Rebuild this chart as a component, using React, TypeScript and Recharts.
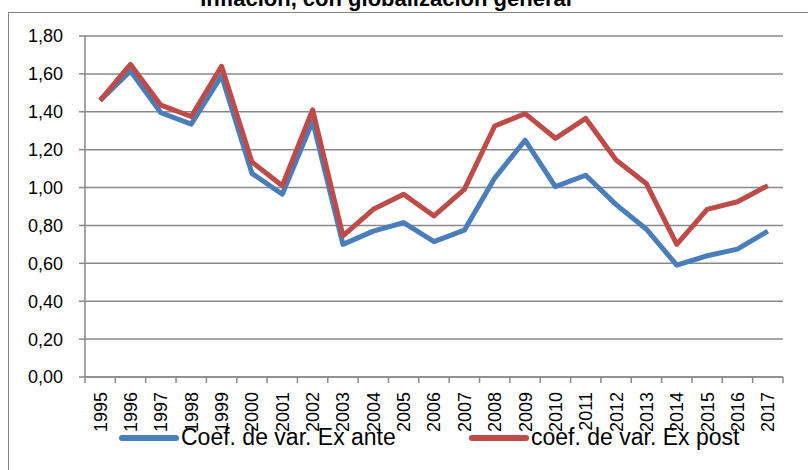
import { LineChart, Line, XAxis, YAxis, CartesianGrid, Legend } from "recharts";

const years = ["1995", "1996", "1997", "1998", "1999", "2000", "2001", "2002", "2003", "2004", "2005", "2006", "2007", "2008", "2009", "2010", "2011", "2012", "2013", "2014", "2015", "2016", "2017"];
const exAnte = [1.46, 1.615, 1.395, 1.335, 1.59, 1.075, 0.965, 1.35, 0.7, 0.77, 0.815, 0.715, 0.775, 1.05, 1.25, 1.005, 1.065, 0.91, 0.78, 0.59, 0.64, 0.675, 0.77];
const exPost = [1.46, 1.65, 1.435, 1.375, 1.64, 1.135, 1.01, 1.41, 0.745, 0.885, 0.965, 0.85, 0.99, 1.325, 1.39, 1.26, 1.365, 1.145, 1.02, 0.7, 0.885, 0.925, 1.01];
const yTicks = [0, 0.2, 0.4, 0.6, 0.8, 1.0, 1.2, 1.4, 1.6, 1.8];

const title = "Inflación, con globalización general";
const anteName = "Coef. de var. Ex ante";
const postName = "coef. de var. Ex post";

const data = years.map((y, i) => ({ year: y, ante: exAnte[i], post: exPost[i] }));

const W = 808;
const H = 470;
const LEFT = 85;
const RIGHT = 25;
const BAND = (W - LEFT - RIGHT) / years.length;
const GRID = "#898989";
const FONT = "'Liberation Sans', Arial, sans-serif";

function YearTick(props: any) {
  const { x, y, payload, index } = props;
  const last = index === years.length - 1;
  return (
    <g>
      <line x1={x - BAND / 2} y1={y} x2={x - BAND / 2} y2={y + 6} stroke={GRID} strokeWidth={1.5} />
      {last && <line x1={x + BAND / 2} y1={y} x2={x + BAND / 2} y2={y + 6} stroke={GRID} strokeWidth={1.5} />}
      <text
        x={x}
        y={y + 15}
        dy="0.36em"
        transform={`rotate(-90, ${x}, ${y + 15})`}
        textAnchor="end"
        fontSize={18}
        fontFamily={FONT}
        fill="#000"
      >
        {payload.value}
      </text>
    </g>
  );
}

function LegendBox(props: any) {
  const items = props.payload || [];
  const spots = [122, 472];
  return (
    <svg width={W} height={50} style={{ display: "block" }}>
      {items.map((it: any, i: number) => (
        <g key={it.value}>
          <line x1={spots[i]} y1={28} x2={spots[i] + 54} y2={28} stroke={it.color} strokeWidth={6} strokeLinecap="round" />
          <text x={spots[i] + 59} y={35} fontSize={23} fontFamily={FONT} fill="#000">
            {it.value}
          </text>
        </g>
      ))}
    </svg>
  );
}

export default function App() {
  return (
    <div style={{ position: "absolute", top: 0, left: 0, width: W, height: H, overflow: "hidden", background: "#fff" }}>
      <div style={{ position: "absolute", left: 8, top: 12, width: W + 20, height: H + 20, border: "1px solid #868686" }} />
      <LineChart width={W} height={H} data={data} margin={{ top: 36, right: RIGHT, left: 0, bottom: 0 }}>
        <CartesianGrid vertical={false} stroke={GRID} strokeWidth={1.5} />
        <XAxis
          dataKey="year"
          scale="band"
          height={93}
          interval={0}
          tickSize={0}
          tickMargin={0}
          tickLine={false}
          axisLine={{ stroke: GRID, strokeWidth: 1.5 }}
          tick={<YearTick />}
        />
        <YAxis
          width={LEFT}
          domain={[0, 1.8]}
          ticks={yTicks}
          tickSize={6}
          tickMargin={16}
          tickLine={{ stroke: GRID, strokeWidth: 1.5 }}
          axisLine={{ stroke: GRID, strokeWidth: 1.5 }}
          tick={{ fill: "#000", fontSize: 18, fontFamily: FONT }}
          tickFormatter={(v: number) => v.toFixed(2).replace(".", ",")}
        />
        <Legend
          layout="horizontal"
          verticalAlign="middle"
          align="center"
          wrapperStyle={{ top: 410, left: 0, width: W, margin: 0 }}
          content={<LegendBox />}
        />
        <Line name={anteName} dataKey="ante" stroke="#4A7EBB" strokeWidth={5} dot={false} strokeLinejoin="round" isAnimationActive={false} />
        <Line name={postName} dataKey="post" stroke="#BE4B48" strokeWidth={5} dot={false} strokeLinejoin="round" isAnimationActive={false} />
      </LineChart>
      <svg width={W} height={20} style={{ position: "absolute", top: 0, left: 0, pointerEvents: "none" }}>
        <text x={386} y={6} textAnchor="middle" fontSize={22} fontWeight="bold" fontFamily={FONT} fill="#000">
          {title}
        </text>
      </svg>
    </div>
  );
}
